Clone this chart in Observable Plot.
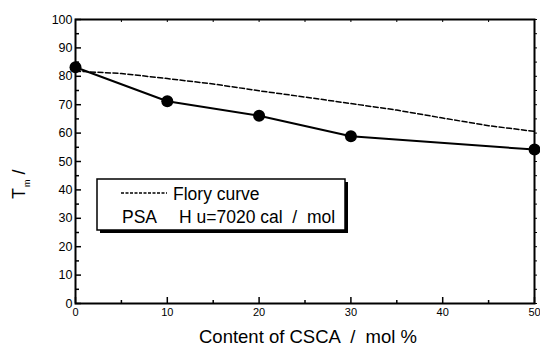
<!DOCTYPE html>
<html><head><meta charset="utf-8">
<script src="https://cdn.jsdelivr.net/npm/d3@7"></script>
<script src="https://cdn.jsdelivr.net/npm/@observablehq/plot@0.6"></script>
<style>
body{margin:0;background:#fff;}
#chart{position:relative;width:540px;height:347px;overflow:hidden;font-family:"Liberation Sans",Arial,sans-serif;}
</style>
</head><body><div id="chart"></div>
<script>
// measured PSA melting temperatures
const contentX = [0, 10, 20, 30, 50];
const tmMeasured = [83.2, 71.2, 66.1, 58.9, 54.2];
// Flory curve
const floryX = [0, 5, 10, 15, 20, 25, 30, 35, 40, 45, 50];
const floryTm = [81.8, 81.0, 79.2, 77.3, 74.9, 72.7, 70.4, 68.1, 65.3, 62.6, 60.6];
// ticks
const xTickLabels = [0, 10, 20, 30, 40, 50];
const xMinorTicks = [5, 15, 25, 35, 45];
const yTickLabels = [0, 10, 20, 30, 40, 50, 60, 70, 80, 90, 100];
const yMinorTicks = [5, 15, 25, 35, 45, 55, 65, 75, 85, 95];
// texts
const xLabel = "Content of CSCA  /  mol %";
const yLabelMain = "T";
const yLabelSub = "m";
const yLabelTail = " /";
const legendFlory = "Flory curve";
const legendPSAName = "PSA";
const legendPSAValue = "H u=7020 cal  /  mol";

const blank = () => "";
const plot = Plot.plot({
  width: 540, height: 347,
  marginLeft: 75, marginRight: 6, marginTop: 19, marginBottom: 44,
  style: {fontFamily: "'Liberation Sans', Arial, sans-serif", fontSize: "12px", color: "black", background: "white", overflow: "visible"},
  x: {domain: [0, 50], label: null},
  y: {domain: [0, 100], label: null},
  marks: [
    Plot.axisY(yTickLabels, {anchor: "left", tickSize: 0, tickPadding: 3, fontSize: 12.5, label: null}),
    Plot.axisY(yTickLabels, {anchor: "left", tickSize: 6, dx: 6, tickFormat: blank, strokeWidth: 1.5, label: null}),
    Plot.axisY(yMinorTicks, {anchor: "left", tickSize: 4, dx: 4, tickFormat: blank, strokeWidth: 1.5, label: null}),
    Plot.axisY(yTickLabels.concat(yMinorTicks), {anchor: "right", tickSize: 2, tickFormat: blank, strokeWidth: 1, label: null}),
    Plot.axisX(xTickLabels, {anchor: "bottom", tickSize: 0, tickPadding: 5, fontSize: 11, label: null}),
    Plot.axisX(xTickLabels, {anchor: "bottom", tickSize: 6, dy: -6, tickFormat: blank, strokeWidth: 1.5, label: null}),
    Plot.axisX(xMinorTicks, {anchor: "bottom", tickSize: 3, dy: -3, tickFormat: blank, strokeWidth: 1.5, label: null}),
    Plot.axisX(xTickLabels.concat(xMinorTicks), {anchor: "top", tickSize: 2, dy: 2, tickFormat: blank, strokeWidth: 1, label: null}),
    Plot.frame({strokeWidth: 2}),
    Plot.line(floryTm, {x: floryX, y: floryTm, stroke: "black", strokeWidth: 1.5, strokeDasharray: "5,2.5"}),
    Plot.line(tmMeasured, {x: contentX, y: tmMeasured, stroke: "black", strokeWidth: 2}),
    Plot.dot(tmMeasured, {x: contentX, y: tmMeasured, r: 6, fill: "black"})
  ]
});
document.getElementById("chart").appendChild(plot);

const svg = d3.select(plot);
const font = "'Liberation Sans', Arial, sans-serif";
// x label
svg.append("text").attr("x", 308).attr("y", 343).attr("text-anchor", "middle")
  .attr("font-size", 18.5).attr("font-family", font).style("white-space", "pre").text(xLabel);
// y label
const yl = svg.append("text").attr("transform", "translate(25,199) rotate(-90)").attr("text-anchor", "start")
  .attr("font-size", 18).attr("font-family", font).style("white-space", "pre");
yl.append("tspan").text(yLabelMain);
yl.append("tspan").attr("font-size", 9).attr("dy", 5).attr("dx", 1).text(yLabelSub);
yl.append("tspan").attr("dy", -5).text(yLabelTail);
// legend
const lg = svg.append("g").attr("text-anchor", "start");
lg.append("rect").attr("x", 100).attr("y", 182).attr("width", 248).attr("height", 51).attr("fill", "black");
lg.append("rect").attr("x", 97).attr("y", 179).attr("width", 248).attr("height", 51).attr("fill", "white").attr("stroke", "black").attr("stroke-width", 1.5);
lg.append("line").attr("x1", 121).attr("x2", 167).attr("y1", 193).attr("y2", 193).attr("stroke", "black").attr("stroke-width", 1.5).attr("stroke-dasharray", "3,1.5");
lg.append("text").attr("x", 173).attr("y", 200).attr("font-size", 17.5).attr("font-family", font).text(legendFlory);
lg.append("text").attr("x", 122).attr("y", 223).attr("font-size", 17.5).attr("font-family", font).text(legendPSAName);
lg.append("text").attr("x", 179).attr("y", 223).attr("font-size", 17.5).attr("font-family", font).style("white-space", "pre").text(legendPSAValue);
</script>
</body></html>
